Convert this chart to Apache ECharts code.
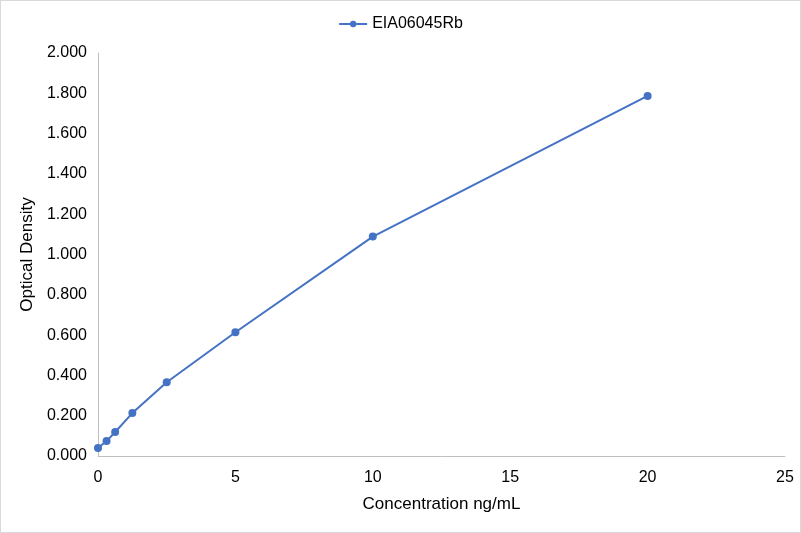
<!DOCTYPE html>
<html><head><meta charset="utf-8">
<script src="https://cdn.jsdelivr.net/npm/echarts@6/dist/echarts.min.js"></script>
<style>html,body{margin:0;padding:0;background:#fff}#c{width:801px;height:533px;box-sizing:border-box;border:1px solid #d9d9d9}</style>
</head><body><div id="c"></div>
<script>
const seriesName = 'EIA06045Rb';
const concentrations = [0, 0.312, 0.625, 1.25, 2.5, 5, 10, 20];
const densities = [0.040, 0.074, 0.119, 0.213, 0.366, 0.614, 1.089, 1.787];
const chart = echarts.init(document.getElementById('c'));
const font = 'Liberation Sans, Arial, sans-serif';
chart.setOption({
  animation: false,
  legend: {top: 10, left: 'center', itemWidth: 28, itemHeight: 8, itemGap: 6,
    textStyle: {fontFamily: font, fontSize: 16, color: '#000'},
    data: [seriesName]},
  grid: {left: 97, right: 15, top: 52, bottom: 76},
  xAxis: {type: 'value', min: 0, max: 25, interval: 5,
    name: 'Concentration ng/mL', nameLocation: 'middle', nameGap: 40,
    nameTextStyle: {fontFamily: font, fontSize: 17, color: '#000'},
    axisLine: {lineStyle: {color: '#bfbfbf'}}, axisTick: {show: false},
    splitLine: {show: false},
    axisLabel: {fontFamily: font, fontSize: 16, color: '#000', margin: 14}},
  yAxis: {type: 'value', min: 0, max: 2, interval: 0.2,
    name: 'Optical Density', nameLocation: 'middle', nameGap: 59,
    nameTextStyle: {fontFamily: font, fontSize: 17, color: '#000'},
    axisLine: {show: true, lineStyle: {color: '#bfbfbf'}}, axisTick: {show: false},
    splitLine: {show: false},
    axisLabel: {fontFamily: font, fontSize: 16, color: '#000', margin: 11,
      formatter: v => v.toFixed(3)}},
  series: [{name: seriesName, type: 'line',
    data: concentrations.map((c, i) => [c, densities[i]]),
    symbol: 'circle', symbolSize: 8,
    lineStyle: {color: '#4472c4', width: 2},
    itemStyle: {color: '#4472c4'}}]
});
</script></body></html>
